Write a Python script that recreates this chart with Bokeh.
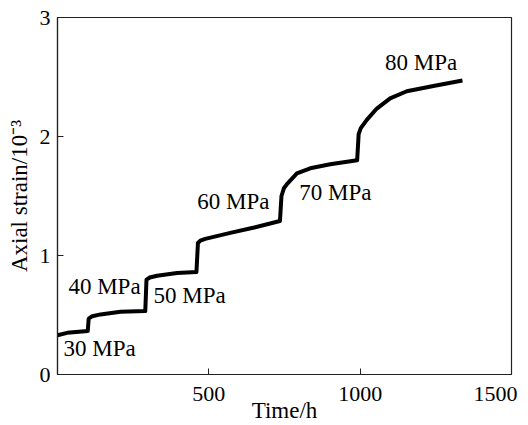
from bokeh.plotting import figure
from bokeh.models import Range1d, FixedTicker, ColumnDataSource
from bokeh.core.properties import value
from bokeh.embed import file_html
from bokeh.resources import INLINE

# data
time_h = [0, 32, 100, 103, 115, 142, 208, 290, 294, 305, 329, 395, 459, 464, 472,
          488, 571, 650, 735, 740, 748, 758, 791, 835, 901, 990, 995, 1002, 1022,
          1055, 1099, 1154, 1242, 1338]
strain = [0.33, 0.35, 0.365, 0.47, 0.49, 0.505, 0.527, 0.533, 0.797, 0.815, 0.83,
          0.853, 0.861, 1.105, 1.125, 1.14, 1.19, 1.235, 1.29, 1.50, 1.565, 1.60,
          1.69, 1.733, 1.767, 1.80, 2.02, 2.07, 2.14, 2.235, 2.32, 2.38, 2.425,
          2.47]

label_text = ["30 MPa", "40 MPa", "50 MPa", "60 MPa", "70 MPa", "80 MPa"]
label_t = [20, 36, 317, 462, 799, 1082]
label_s = [0.217, 0.74, 0.665, 1.455, 1.528, 2.62]

x_ticks = [500, 1000, 1500]
y_ticks = [0, 1, 2, 3]

FONT = "Liberation Serif"

p = figure(width=528, height=425, output_backend="svg", toolbar_location=None,
           x_range=Range1d(0, 1500), y_range=Range1d(0, 3),
           min_border_left=57, min_border_top=17, min_border_right=17,
           min_border_bottom=40)
p.grid.visible = False
p.outline_line_color = "#222222"
p.outline_line_width = 1.2
p.background_fill_color = "white"
p.border_fill_color = "white"

p.line(time_h, strain, line_color="black", line_width=4, line_join="round")

src = ColumnDataSource(dict(x=label_t, y=label_s, t=label_text))
p.text(x="x", y="y", text="t", source=src, text_font=value(FONT),
       text_font_size="23px", text_align="left", text_baseline="middle",
       text_color="black")

for ax in (p.xaxis[0], p.yaxis[0]):
    ax.axis_line_color = "#222222"
    ax.axis_line_width = 1.2
    ax.major_tick_in = 6
    ax.major_tick_out = 0
    ax.minor_tick_line_color = None
    ax.major_tick_line_color = "#222222"
    ax.major_label_text_font = FONT
    ax.major_label_text_font_size = "22px"
    ax.major_label_text_color = "black"
    ax.axis_label_text_font = FONT
    ax.axis_label_text_font_size = "23px"
    ax.axis_label_text_font_style = "normal"
    ax.axis_label_text_color = "black"

p.xaxis.ticker = FixedTicker(ticks=x_ticks)
p.yaxis.ticker = FixedTicker(ticks=y_ticks)
# last label nudged left (trailing no-break spaces) so it stays inside the window
p.xaxis.major_label_overrides = {1500: "1500\u00a0\u00a0"}
p.xaxis.major_label_standoff = 6
p.yaxis.major_label_standoff = 7
p.xaxis.axis_label = "Time/h"
p.yaxis.axis_label = "Axial strain/10\u207b\u00b3"
p.xaxis.axis_label_standoff = -11
p.yaxis.axis_label_standoff = 5

open("out.html", "w").write(file_html(p, INLINE))
